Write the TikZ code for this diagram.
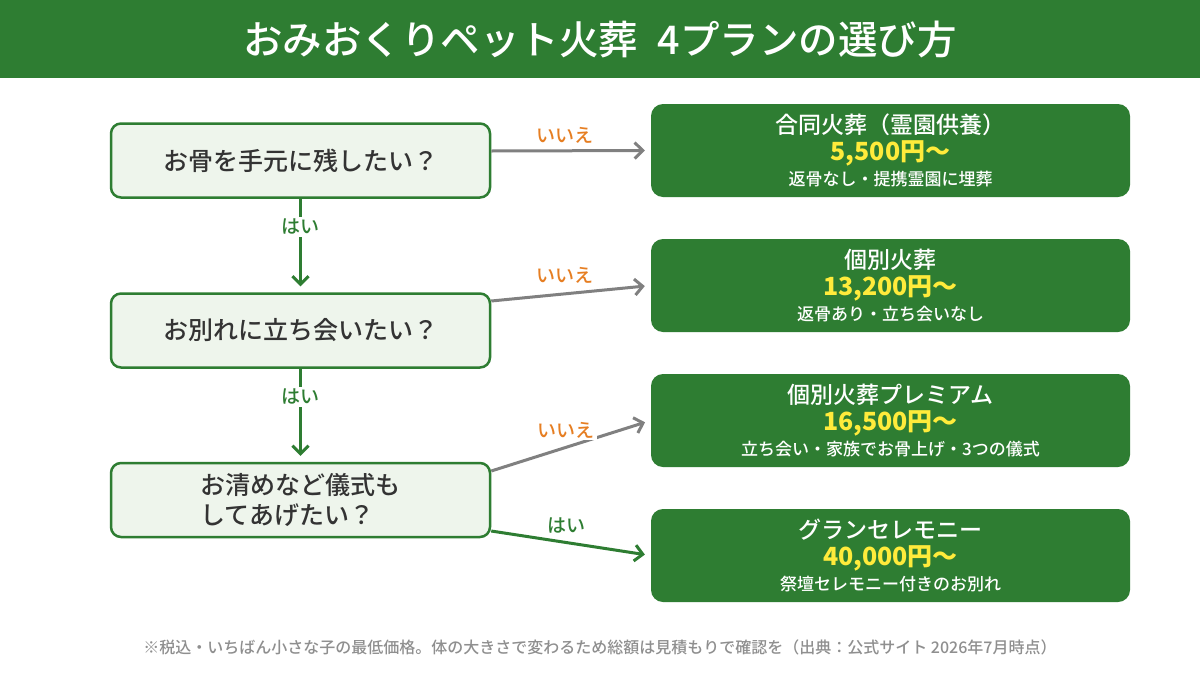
\documentclass[tikz,border=0pt]{standalone}
\usepackage{fontspec}
\setmainfont{Noto Sans CJK JP}
\newfontfamily\medf{Noto Sans CJK JP Medium}
\usetikzlibrary{arrows.meta,calc}
\definecolor{hdr}{HTML}{2E7D32}
\definecolor{qfill}{HTML}{EEF5EC}
\definecolor{qtext}{HTML}{333333}
\definecolor{noc}{HTML}{E67E22}
\definecolor{arrg}{HTML}{808080}
\definecolor{pricec}{HTML}{FFEB3B}
\definecolor{notec}{HTML}{8F8F8F}
\begin{document}
\begin{tikzpicture}[x=1pt,y=-1pt,
  qbox/.style={draw=hdr, line width=2.5pt, fill=qfill, rounded corners=10pt, minimum width=379pt, minimum height=74pt, text=qtext, font=\medf\fontsize{25}{30}\selectfont, inner sep=0pt},
  rbox/.style={fill=hdr, rounded corners=12pt, minimum width=479pt, minimum height=93pt, inner sep=0pt},
  rtitle/.style={text=white, font=\medf\fontsize{23}{27}\selectfont, inner sep=0pt},
  rprice/.style={text=pricec, font=\bfseries\fontsize{25}{30}\selectfont, inner sep=0pt},
  rsub/.style={text=white, font=\medf\fontsize{17}{20}\selectfont, inner sep=0pt},
  noarr/.style={draw=arrg, line width=3pt, -{Straight Barb[length=8pt,width=16pt]}, shorten >=6pt},
  yesarr/.style={draw=hdr, line width=3pt, -{Straight Barb[length=8pt,width=16pt]}, shorten >=6pt},
  nolbl/.style={text=noc, font=\medf\fontsize{19}{22}\selectfont, fill=white, inner sep=2pt},
  yeslbl/.style={text=hdr, font=\medf\fontsize{19}{22}\selectfont, fill=white, inner sep=2pt},
]
\useasboundingbox (0,0) rectangle (1200,675);
\fill[white] (0,0) rectangle (1200,675);
\fill[hdr] (0,0) rectangle (1200,78);
\node[text=white, font=\medf\fontsize{39.5}{48}\selectfont] (title) at (600,40) {おみおくりペット火葬\hspace{0.5em}4プランの選び方};

% questions
\node[qbox] (q1) at (300.5,160.5) {お骨を手元に残したい？};
\node[qbox] (q2) at (300.5,330.5) {お別れに立ち会いたい？};
\node[qbox, align=left] (q3) at (300.5,500) {お清めなど儀式も\\してあげたい？};

% results
\node[rbox] (r1) at (890.5,150.5) {};
\node[rtitle] (r1t) at ([yshift=25.5pt]r1.center) {合同火葬（霊園供養）};
\node[rprice] (r1p) at ([yshift=-2.5pt]r1.center) {5,500円～};
\node[rsub] (r1s) at ([yshift=-28.5pt]r1.center) {返骨なし・提携霊園に埋葬};

\node[rbox] (r2) at (890.5,285.5) {};
\node[rtitle] (r2t) at ([yshift=25.5pt]r2.center) {個別火葬};
\node[rprice] (r2p) at ([yshift=-2.5pt]r2.center) {13,200円～};
\node[rsub] (r2s) at ([yshift=-28.5pt]r2.center) {返骨あり・立ち会いなし};

\node[rbox] (r3) at (890.5,420.5) {};
\node[rtitle] (r3t) at ([yshift=25.5pt]r3.center) {個別火葬プレミアム};
\node[rprice] (r3p) at ([yshift=-2.5pt]r3.center) {16,500円～};
\node[rsub] (r3s) at ([yshift=-28.5pt]r3.center) {立ち会い・家族でお骨上げ・3つの儀式};

\node[rbox] (r4) at (890.5,555.5) {};
\node[rtitle] (r4t) at ([yshift=25.5pt]r4.center) {グランセレモニー};
\node[rprice] (r4p) at ([yshift=-2.5pt]r4.center) {40,000円～};
\node[rsub] (r4s) at ([yshift=-28.5pt]r4.center) {祭壇セレモニー付きのお別れ};

% connectors
\draw[yesarr] (q1.south) -- (q2.north);
\draw[yesarr] (q2.south) -- (q3.north);
\draw[noarr] ([yshift=9.5pt]q1.east) -- (r1.west);
\draw[noarr] ([yshift=29.5pt]q2.east) -- (r2.west);
\draw[noarr] ([yshift=29pt]q3.east) -- (r3.west);
\draw[yesarr] ([yshift=-31pt]q3.east) -- (r4.west);

% labels
\node[yeslbl] (y1) at (300.5,227) {はい};
\node[yeslbl] (y2) at (300.5,397) {はい};
\node[nolbl] (n1) at (565,135) {いいえ};
\node[nolbl] (n2) at (565,275) {いいえ};
\node[nolbl] (n3) at (566,430) {いいえ};
\node[yeslbl, fill=none] (y3) at (566,526) {はい};

% footnote
\node[text=notec, font=\medf\fontsize{16}{19}\selectfont] (foot) at (600,647) {※税込・いちばん小さな子の最低価格。体の大きさで変わるため総額は見積もりで確認を（出典：公式サイト 2026年7月時点）};
\end{tikzpicture}
\end{document}
